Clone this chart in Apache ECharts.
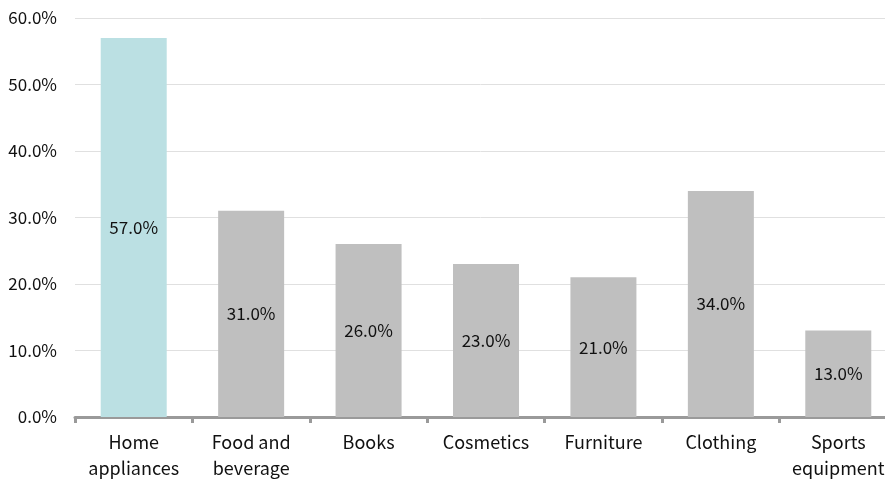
<!DOCTYPE html>
<html>
<head>
<meta charset="utf-8">
<script src="https://cdn.jsdelivr.net/npm/echarts@6/dist/echarts.min.js"></script>
<style>
  html, body { margin: 0; padding: 0; background: #fff; }
  #chart { width: 885px; height: 481px; }
</style>
</head>
<body>
<div id="chart"></div>
<script>
var categories = ['Home\nappliances', 'Food and\nbeverage', 'Books', 'Cosmetics', 'Furniture', 'Clothing', 'Sports\nequipment'];
var shares = [57, 31, 26, 23, 21, 34, 13];
var barColors = ['#bbe0e3', '#bfbfbf', '#bfbfbf', '#bfbfbf', '#bfbfbf', '#bfbfbf', '#bfbfbf'];
var yTicks = [0, 10, 20, 30, 40, 50, 60];

var font = '"Noto Sans CJK JP", "Noto Sans", sans-serif';

var myChart = echarts.init(document.getElementById('chart'));
myChart.setOption({
    animation: false,
    grid: { left: 75, right: -12, top: 18, bottom: 64, containLabel: false, outerBoundsMode: 'none' },
    xAxis: {
        type: 'category',
        data: categories,
        axisLine: { lineStyle: { color: '#9a9a9a', width: 3 } },
        axisTick: { show: true, alignWithLabel: false, length: 6, lineStyle: { color: '#9a9a9a', width: 3 } },
        axisLabel: { color: '#111', fontSize: 18, fontFamily: font, lineHeight: 26, margin: 12, interval: 0 }
    },
    yAxis: {
        type: 'value',
        min: yTicks[0],
        max: yTicks[yTicks.length - 1],
        interval: 10,
        axisLine: { show: false },
        axisTick: { show: false },
        splitLine: { lineStyle: { color: '#e0e0e0', width: 1 } },
        axisLabel: {
            color: '#111', fontSize: 17, fontFamily: font, margin: 18,
            formatter: function (v) { return v.toFixed(1) + '%'; }
        }
    },
    series: [{
        type: 'bar',
        barWidth: 66,
        data: shares.map(function (v, i) {
            return { value: v, itemStyle: { color: barColors[i] } };
        }),
        label: {
            show: true,
            position: 'inside',
            color: '#111',
            fontSize: 17,
            fontFamily: font,
            formatter: function (p) { return p.value.toFixed(1) + '%'; }
        }
    }]
});
</script>
</body>
</html>
